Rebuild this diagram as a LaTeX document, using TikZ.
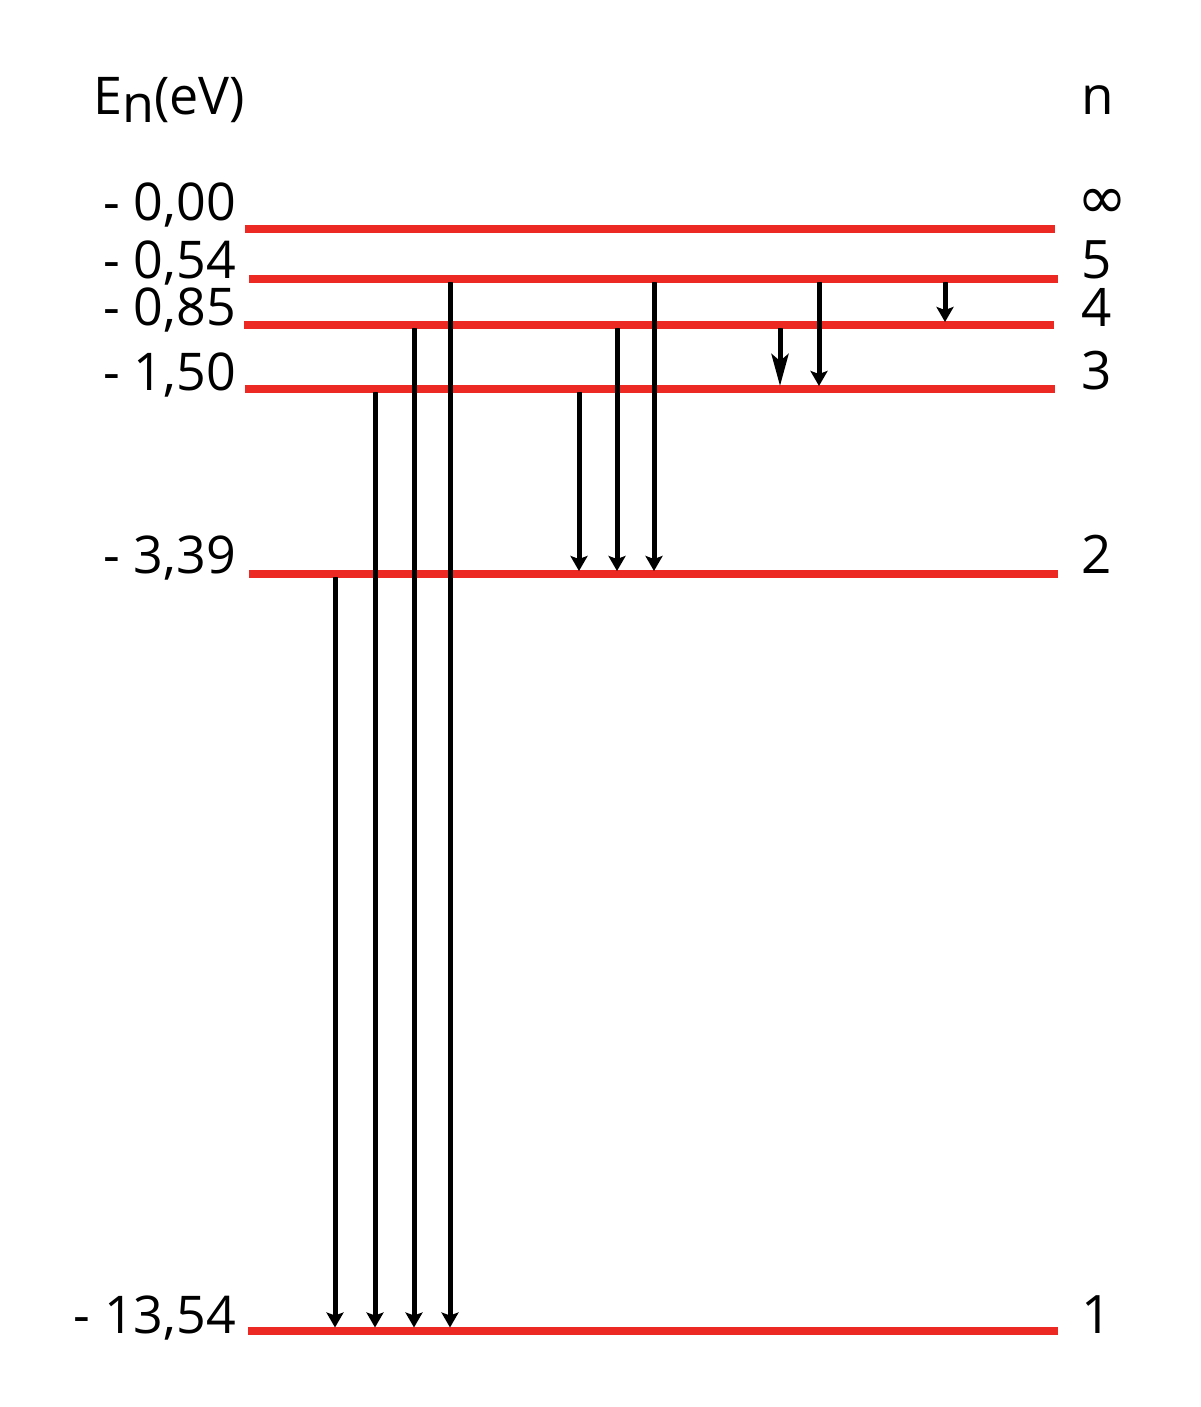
\documentclass[tikz,border=0pt]{standalone}
\usepackage{fontspec}
\setmainfont{Open Sans}
\newfontfamily\symfnt{DejaVu Sans}
\usetikzlibrary{arrows.meta,calc}
\definecolor{lvlred}{RGB}{237,41,36}
\tikzset{
  level/.style={draw=lvlred,line width=7.5pt},
  trans/.style={draw=black,line width=5pt,-{Stealth[length=15pt,width=17pt,inset=3pt]}},
  translong/.style={draw=black,line width=5pt,-{Stealth[length=32pt,width=17pt,inset=7pt]}},
  elabel/.style={anchor=base east,inner sep=0pt,font=\fontsize{52}{56}\selectfont},
  nlabel/.style={anchor=base west,inner sep=0pt,font=\fontsize{53}{58}\selectfont},
}
\begin{document}
\begin{tikzpicture}[x=1pt,y=-1pt]
\useasboundingbox (0,0) rectangle (1200,1407);
% level reference coordinates
\coordinate (Linf) at (0,229);
\coordinate (L5) at (0,279);
\coordinate (L4) at (0,325);
\coordinate (L3) at (0,389);
\coordinate (L2) at (0,574);
\coordinate (L1) at (0,1331);
% level lines
\draw[level] ($(Linf)+(245,0)$) -- ($(Linf)+(1055,0)$);
\draw[level] ($(L5)+(249,0)$) -- ($(L5)+(1058,0)$);
\draw[level] ($(L4)+(244,0)$) -- ($(L4)+(1054,0)$);
\draw[level] ($(L3)+(245,0)$) -- ($(L3)+(1055,0)$);
\draw[level] ($(L2)+(249,0)$) -- ($(L2)+(1058,0)$);
\draw[level] ($(L1)+(248,0)$) -- ($(L1)+(1058,0)$);
% Lyman
\draw[trans] ($(L2)+(335,3)$) -- ($(L1)+(335,-3.5)$);
\draw[trans] ($(L3)+(375,3)$) -- ($(L1)+(375,-3.5)$);
\draw[trans] ($(L4)+(414,3)$) -- ($(L1)+(414,-3.5)$);
\draw[trans] ($(L5)+(450,3)$) -- ($(L1)+(450,-3.5)$);
% Balmer
\draw[trans] ($(L3)+(579,3)$) -- ($(L2)+(579,-3)$);
\draw[trans] ($(L4)+(617,3)$) -- ($(L2)+(617,-3)$);
\draw[trans] ($(L5)+(654,3)$) -- ($(L2)+(654,-3)$);
% Paschen
\draw[translong] ($(L4)+(780,3)$) -- ($(L3)+(780,-3)$);
\draw[trans] ($(L5)+(819,3)$) -- ($(L3)+(819,-3)$);
% Brackett
\draw[trans] ($(L5)+(945,3)$) -- ($(L4)+(945,-3)$);
% headers
\node[anchor=base west,inner sep=0pt,font=\fontsize{52}{58}\selectfont] (Ehead) at (93,115) {E\raisebox{-8pt}{n}(eV)};
\node[nlabel] (nhead) at (1081,115) {n};
% energy labels
\node[elabel] (e0) at (236,220) {- 0,00};
\node[elabel] (e5) at (236,278) {- 0,54};
\node[elabel] (e4) at (236,325) {- 0,85};
\node[elabel] (e3) at (236,390) {- 1,50};
\node[elabel] (e2) at (236,573) {- 3,39};
\node[elabel] (e1) at (236,1333) {- 13,54};
% quantum numbers
\node[inner sep=0pt,font=\symfnt\fontsize{60}{62}\selectfont] (ninf) at (1102,204) {∞};
\node[nlabel] (n5) at (1081,278) {5};
\node[nlabel] (n4) at (1081,326) {4};
\node[nlabel] (n3) at (1081,389) {3};
\node[nlabel] (n2) at (1081,573) {2};
\node[nlabel] (n1) at (1081,1333) {1};
\end{tikzpicture}
\end{document}
